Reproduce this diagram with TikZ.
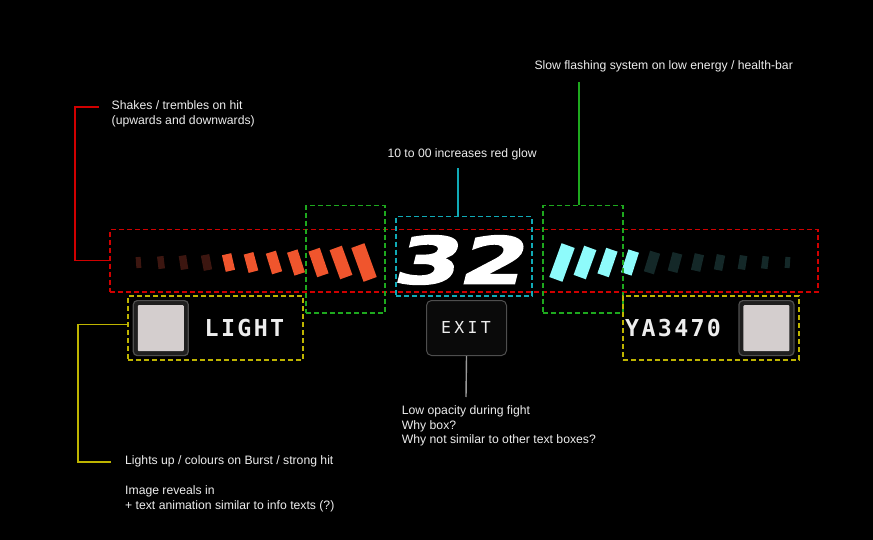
\documentclass[tikz,border=0pt]{standalone}
\usepackage{fontspec}
\setmainfont{Liberation Sans}
\newfontfamily\monofnt{DejaVu Sans Mono}[LetterSpace=10]
\newfontfamily\exitfnt{DejaVu Sans Mono}[LetterSpace=20]
\newfontfamily\numfnt{DejaVu Sans}[FakeStretch=1.46,FakeSlant=0.25,FakeBold=2.5]
\definecolor{redc}{HTML}{D00000}
\definecolor{greenc}{HTML}{1EA81E}
\definecolor{cyanc}{HTML}{10AAB6}
\definecolor{yellowc}{HTML}{BEB400}
\definecolor{orng}{HTML}{F0552D}
\definecolor{brownd}{HTML}{3C1610}
\definecolor{cyanb}{HTML}{8EFBFB}
\definecolor{tealdk}{HTML}{142828}
\definecolor{txt}{HTML}{EDEDED}
\definecolor{grayln}{HTML}{9A9A9A}
\definecolor{frame}{HTML}{4E4E4E}
\definecolor{imgc}{HTML}{D4CECE}
\tikzset{
  dbox/.style={draw, line width=1.5pt, dash pattern=on 5pt off 3pt, inner sep=0pt, anchor=north west, fill=none},
  conn/.style={line width=1.4pt},
  lbl/.style={anchor=base west, inner sep=0pt, text=txt, font=\fontsize{12.2}{14.6}\selectfont},
  imgframe/.style={draw=frame, line width=1.2pt, fill={black!88!white}, rounded corners=4pt, inner sep=0pt, minimum width=55pt, minimum height=55pt, anchor=north west},
  imgin/.style={fill=imgc, inner sep=0pt, minimum width=46pt, minimum height=46pt, rounded corners=1pt},
  exitbox/.style={draw=frame, line width=1pt, fill={black!96!white}, rounded corners=5pt, inner sep=0pt, minimum width=80pt, minimum height=55pt, anchor=north west},
  monolbl/.style={anchor=base west, inner sep=0pt, text=txt, font=\monofnt\bfseries\fontsize{23.3}{28}\selectfont},
}
\begin{document}
\begin{tikzpicture}[x=1pt,y=-1pt]
\useasboundingbox (0,0) rectangle (873,540);
\fill[black] (0,0) rectangle (873,540);

% bars left
\foreach \cx/\w/\h/\a/\c in {138.5/5/11/4/brownd, 161/6.5/12.5/7/brownd, 183.5/7.5/14/9/brownd, 206.5/8.5/15.5/11/brownd,
  228.5/9.5/17/13/orng, 251/10/19/15/orng, 274/10.5/21.5/17/orng, 296/11/24/18/orng, 318.5/12/27/19/orng, 341/13/31/20/orng, 364/14/36/20/orng}
  \fill[\c, rotate around={\a:(\cx,262.5)}] ({\cx-\w/2},{262.5-\h/2}) rectangle ({\cx+\w/2},{262.5+\h/2});
% bars right
\foreach \cx/\w/\h/\a/\c in {787.5/5/11/4/tealdk, 765/6.5/12.5/7/tealdk, 742.5/7.5/14/9/tealdk, 719.5/8.5/15.5/11/tealdk,
  697.5/9.5/17/13/tealdk, 675/10/19/15/tealdk, 652/10.5/21.5/17/tealdk, 630/11/24/18/cyanb, 607.5/12/27/19/cyanb, 585/13/31/20/cyanb, 562/14/36/20/cyanb}
  \fill[\c, rotate around={-\a:(\cx,262.5)}] ({\cx-\w/2},{262.5-\h/2}) rectangle ({\cx+\w/2},{262.5+\h/2});

% big number
\node[anchor=base, inner sep=0pt, text=white, font=\numfnt\bfseries\fontsize{64.5}{70}\selectfont] (num) at (457,283.5) {32};

% dashed boxes
\node[dbox, draw=redc, minimum width=708pt, minimum height=62pt] (shake) at (109,229) {};
\node[dbox, draw=greenc, minimum width=79pt, minimum height=107pt] (grnL) at (305,205) {};
\node[dbox, draw=greenc, minimum width=80pt, minimum height=107pt] (grnR) at (542,205) {};
\node[dbox, draw=cyanc, minimum width=136pt, minimum height=79pt] (glow) at (395,216) {};
\node[dbox, draw=yellowc, minimum width=175pt, minimum height=64pt] (ylwL) at (127,295) {};
\node[dbox, draw=yellowc, minimum width=176pt, minimum height=64pt] (ylwR) at (622,295) {};

% image frames
\node[imgframe] (imgL) at (132.7,300) {};
\node[imgin] (imgLin) at (imgL.center) {};
\node[imgframe] (imgR) at (738.3,300) {};
\node[imgin] (imgRin) at (imgR.center) {};

% labels in boxes
\node[monolbl] (light) at (204.5,336) {LIGHT};
\node[monolbl] (code) at (625,336) {YA3470};
\node[exitbox] (exit) at (426,300) {};
\node[anchor=base west, inner sep=0pt, text=txt, font=\exitfnt\fontsize{16.5}{20}\selectfont] (exittxt) at (441,333.7) {EXIT};

% annotation texts
\node[lbl] (sh1) at (111.5,110) {Shakes / trembles on hit};
\node[lbl] (sh2) at (111.5,124.7) {(upwards and downwards)};
\node[lbl] (gl1) at (387.3,157.3) {10 to 00 increases red glow};
\node[lbl] (sl1) at (534.3,69.3) {Slow flashing system on low energy / health-bar};
\node[lbl] (li1) at (125,464.3) {Lights up / colours on Burst / strong hit};
\node[lbl] (li2) at (125,494.3) {Image reveals in};
\node[lbl] (li3) at (125,509) {+ text animation similar to info texts (?)};
\node[lbl] (lo1) at (401.7,414.7) {Low opacity during fight};
\node[lbl] (lo2) at (401.7,429.3) {Why box?};
\node[lbl] (lo3) at (401.7,443.7) {Why not similar to other text boxes?};

% connectors
\coordinate (redcorner) at (75,107);
\coordinate (redend) at (99,107);
\draw[conn, redc] (shake.west) -| (redcorner) -- (redend);
\coordinate (ylwcorner) at (78,462);
\coordinate (ylwend) at (111,462);
\draw[conn, yellowc] ([yshift=3pt]ylwL.west) -| (ylwcorner) -- (ylwend);
\coordinate (cyantop) at (458,168);
\draw[conn, cyanc] (cyantop) -- (cyantop |- glow.north);
\coordinate (greentop) at (579,82);
\draw[conn, greenc] (greentop) -- (greentop |- grnR.north);
\coordinate (exitend) at (466,397);
\draw[conn, grayln] (exit.south) -- (exitend);
\end{tikzpicture}
\end{document}
